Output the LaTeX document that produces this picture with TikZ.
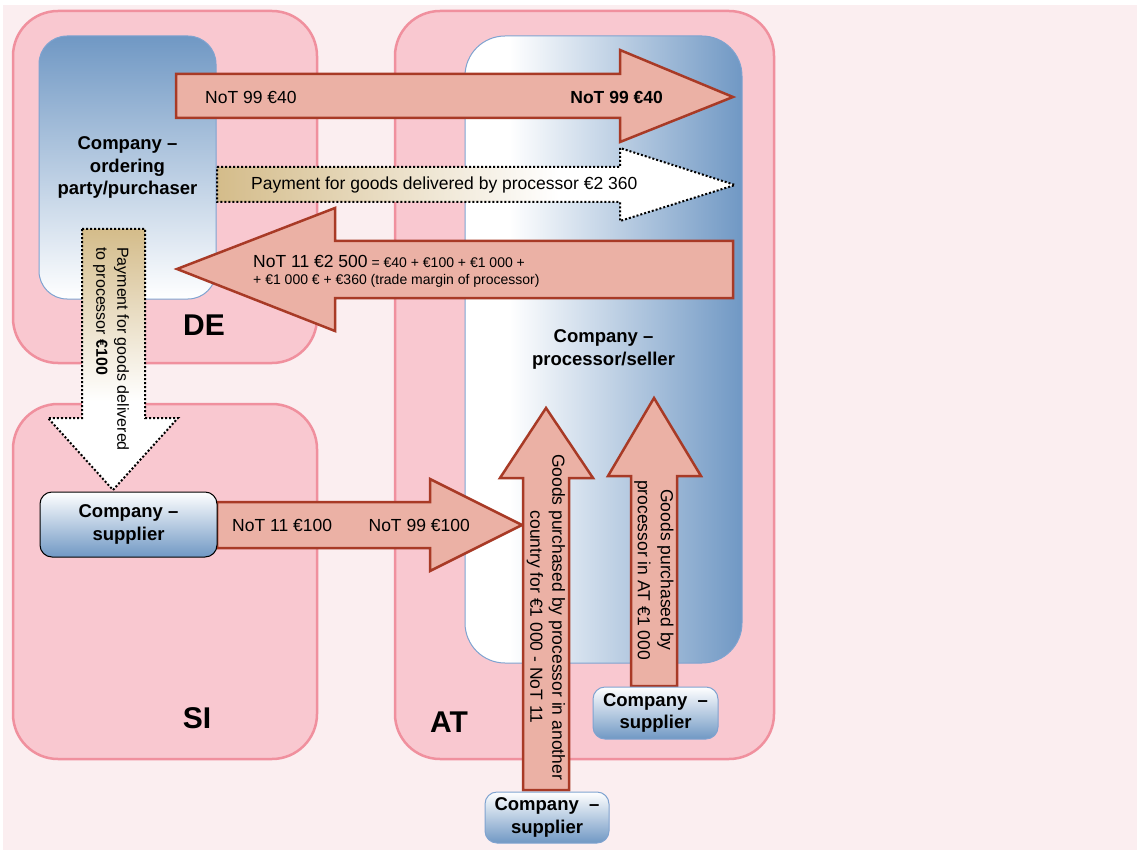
\documentclass[tikz,border=0pt]{standalone}
\usepackage{fontspec}
\setmainfont{Liberation Sans}
\usepackage{tikz}
\usetikzlibrary{positioning}

\definecolor{bgpink}{HTML}{FBEEF0}
\definecolor{landfill}{HTML}{F9C8D0}
\definecolor{landdraw}{HTML}{F0909E}
\definecolor{coblue}{HTML}{7098C4}
\definecolor{coline}{HTML}{7FA3D0}
\definecolor{flowfill}{HTML}{EBB1A5}
\definecolor{flowdraw}{HTML}{A83A26}
\definecolor{paytan}{HTML}{D4BC8A}

\pgfdeclarehorizontalshading{procshade}{100bp}{color(0bp)=(white); color(25bp)=(white); color(33bp)=(white); color(75bp)=(coblue); color(100bp)=(coblue)}
\pgfdeclarehorizontalshading{payright}{100bp}{color(0bp)=(paytan); color(25bp)=(paytan); color(58bp)=(white); color(100bp)=(white)}
\pgfdeclareverticalshading{paydown}{100bp}{color(0bp)=(white); color(42bp)=(white); color(75bp)=(paytan); color(100bp)=(paytan)}

\begin{document}
\begin{tikzpicture}[x=1pt,y=-1pt]
            \tikzstyle{land}=[fill=landfill, draw=landdraw, line width=2.5pt, rounded corners=45pt]
            \tikzstyle{cntry}=[font=\fontsize{30}{36}\selectfont\bfseries, inner sep=0pt]
            \tikzstyle{firm}=[draw=coline, line width=1pt, inner sep=0pt, align=center, font=\fontsize{18.5}{22.5}\selectfont\bfseries]
            \tikzstyle{supplier}=[firm, rounded corners=12pt, top color=white, bottom color=coblue]
            \tikzstyle{flow}=[fill=flowfill, draw=flowdraw, line width=2.5pt]
            \tikzstyle{pay}=[draw=black, dotted, line width=2pt]
            \tikzstyle{txt}=[inner sep=0pt, font=\fontsize{17.5}{22}\selectfont]

            \useasboundingbox (0,0) rectangle (1137,850);
            \fill[bgpink] (3,5) rectangle (1137,850);

            \draw[land] (13,11)  rectangle (317,363);
            \draw[land] (13,404) rectangle (317,759);
            \draw[land] (395,11) rectangle (774,759);
            \node[cntry] (de) at (204,325) {DE};
            \node[cntry] (si) at (197,718) {SI};
            \node[cntry] (at) at (449,722) {AT};

            \node[firm, minimum width=177pt, minimum height=263pt, rounded corners=28pt,
                  top color=coblue, bottom color=white]                  (orderer)   at (127.5,167.5) {Company --\\ordering\\party/purchaser};
            \node[firm, minimum width=277pt, minimum height=627pt, rounded corners=40pt,
                  shading=procshade]                                     (processor) at (603.5,349.5) {Company --\\processor/seller};

            \draw[flow] (176,74) -- (620,74) -- (620,50) -- (733,97) -- (620,142) -- (620,118) -- (176,118) -- cycle;
            \draw[pay, shading=payright] (217,167) -- (620,167) -- (620,148) -- (735,185) -- (620,221) -- (620,202) -- (217,202) -- cycle;
            \draw[flow] (733,241) -- (335,241) -- (335,208) -- (177,269) -- (335,331) -- (335,298) -- (733,298) -- cycle;
            \draw[pay, shading=paydown] (82,229) -- (145,229) -- (145,418) -- (178,418) -- (113,490) -- (48,418) -- (82,418) -- cycle;
            \draw[flow] (217,502) -- (430,502) -- (430,479) -- (522,525) -- (430,571) -- (430,548) -- (217,548) -- cycle;
            \draw[flow] (523,790) -- (523,478) -- (500,478) -- (546,408) -- (593,478) -- (569,478) -- (569,790) -- cycle;
            \draw[flow] (631,686) -- (631,476) -- (608,476) -- (654,398) -- (701,476) -- (677,476) -- (677,686) -- cycle;

            \node[supplier, draw=black, minimum width=177pt, minimum height=65pt] (supSI)  at (128.5,524.5) {Company --\\supplier};
            \node[supplier, minimum width=125pt, minimum height=52pt]             (supAT)  at (655.5,713)   {Company~~--\\supplier};
            \node[supplier, minimum width=124pt, minimum height=51pt]             (supEU)  at (547,817.5)   {Company~~--\\supplier};

            \node[txt, anchor=west]  (noTa)  at (205,97)  {NoT 99 €40};
            \node[txt, anchor=east]  (noTb)  at (663,97)  {\bfseries NoT 99 €40};
            \node[txt, anchor=west]  (payDE) at (251,185) {Payment for goods delivered by processor €2 360};
            \node[txt, anchor=west, align=left, font=\fontsize{14}{17}\selectfont]
                                     (noTc)  at (253,271) {{\fontsize{17.5}{17}\selectfont NoT 11 €2 500} = €40 + €100 + €1 000 +\\+ €1 000 € + €360 (trade margin of processor)};
            \node[txt, anchor=west, rotate=-90, align=left, font=\fontsize{16}{21}\selectfont]
                                     (paySI) at (111,247) {Payment for goods delivered\\to processor \textbf{€100}};
            \node[txt, anchor=west]  (noTd)  at (232,525) {NoT 11 €100};
            \node[txt, anchor=east]  (noTe)  at (470,525) {NoT 99 €100};
            \node[txt, rotate=-90, align=center] (buyEU) at (546,617) {Goods purchased by processor in another\\country for €1 000 - NoT 11};
            \node[txt, rotate=-90, align=center, font=\fontsize{17.5}{23}\selectfont]
                                     (buyAT) at (654,570) {Goods purchased by\\processor in AT €1 000};
\end{tikzpicture}
\end{document}
